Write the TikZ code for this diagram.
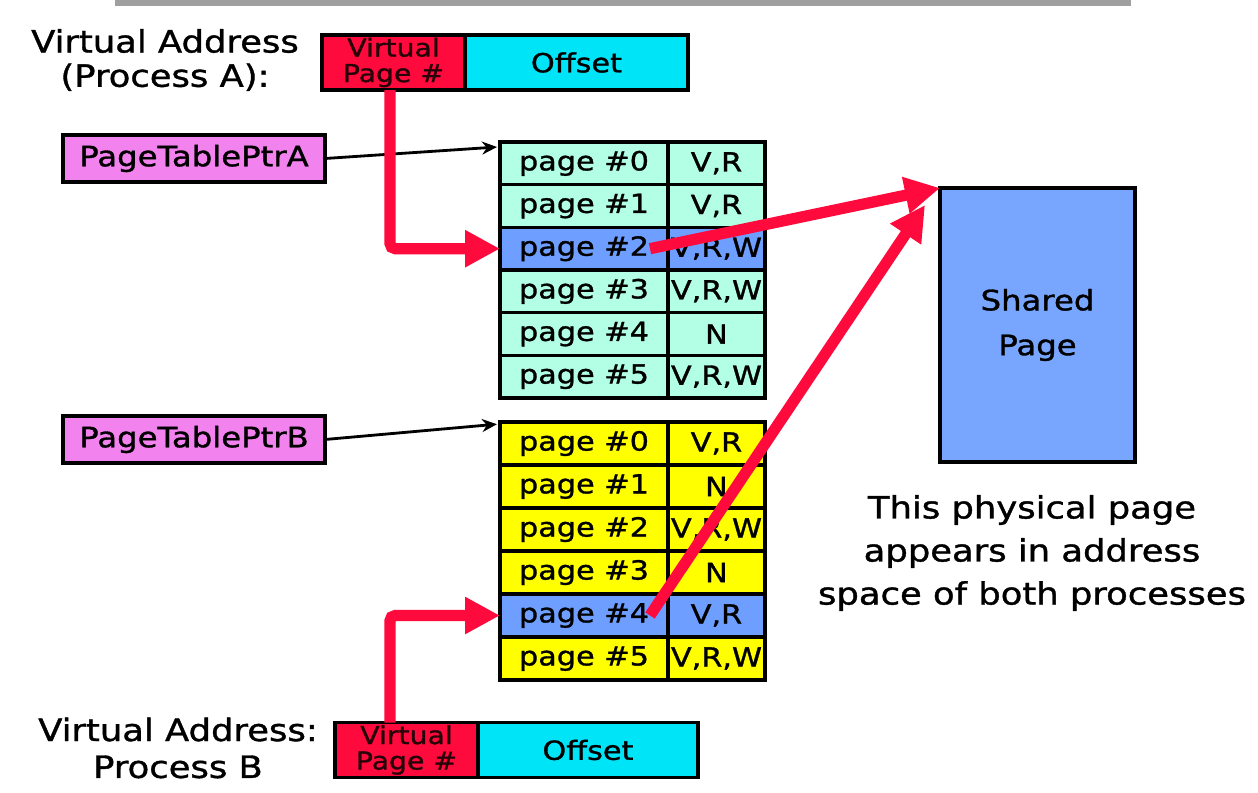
\documentclass[tikz,border=0pt]{standalone}
\usepackage{fontspec}
\setmainfont{DejaVu Sans}[FakeStretch=1.15, FakeBold=1.2]
\usepackage{xcolor}
\usepackage{tikz}
\usetikzlibrary{arrows.meta,positioning,calc}

\definecolor{vpnred}{HTML}{FF0A3C}
\definecolor{offcyan}{HTML}{00E4F8}
\definecolor{mintA}{HTML}{B2FFE6}
\definecolor{yellowB}{HTML}{FFFF00}
\definecolor{hlblue}{HTML}{6E9EFF}
\definecolor{sharedblue}{HTML}{78A6FF}
\definecolor{ptrpink}{HTML}{F283EE}

\begin{document}
\begin{tikzpicture}[x=0.02cm, y=-0.02cm,
    cell/.style={draw=black, line width=2pt, inner sep=0pt, outer sep=0pt, font=\fontsize{15}{18}\selectfont},
    pagecell/.style={cell, minimum width=3.36cm, minimum height=0.853cm},
    flagcell/.style={cell, minimum width=1.94cm, minimum height=0.853cm},
    vpnbox/.style={cell, fill=vpnred, minimum width=2.86cm, minimum height=1.1cm, align=center, text=black!85!vpnred, font=\fontsize{14}{14.5}\selectfont},
    offbox/.style={cell, fill=offcyan, minimum height=1.1cm},
    ptrbox/.style={cell, fill=ptrpink, minimum width=5.24cm, minimum height=0.94cm, font=\fontsize{16}{19}\selectfont},
    lbl/.style={align=center, font=\fontsize{17.5}{19.5}\selectfont},
    ptrarr/.style={-{Stealth[length=3mm, width=2.6mm]}, line width=1.6pt},
    redarr/.style={-{Triangle[length=7mm, width=7mm]}, line width=6.4pt, draw=vpnred, rounded corners=3pt}
]
    \useasboundingbox (0,0) rectangle (1258,792);
    % slide rule at the top
    \node[fill=gray!75, inner sep=0pt, minimum width=20.32cm, minimum height=0.12cm] (rule) at (623,3) {};

    % virtual address of process A
    \node[lbl] (vaA) at (165,60) {Virtual Address\\(Process A):};
    \node[vpnbox] (vpnA) at (393.5,62.5) {Virtual\\Page \#};
    \node[offbox, minimum width=4.46cm, right=0pt of vpnA] (offA) {Offset};

    % page table pointers
    \node[ptrbox] (ptrA) at (194,158.5) {PageTablePtrA};
    \node[ptrbox] (ptrB) at (194,439.5) {PageTablePtrB};

    % page table A
    \foreach \i/\fl/\col in {0/{V,R}/mintA, 1/{V,R}/mintA, 2/{V,R,W}/hlblue, 3/{V,R,W}/mintA, 4/{N}/mintA, 5/{V,R,W}/mintA} {
        \node[pagecell, fill=\col] (pa\i) at (584,{142+42.67*(\i+0.5)}) {page \#\i};
        \node[flagcell, fill=\col, right=0pt of pa\i] (fa\i) {\fl};
    }

    % page table B
    \foreach \i/\fl/\col in {0/{V,R}/yellowB, 1/{N}/yellowB, 2/{V,R,W}/yellowB, 3/{N}/yellowB, 4/{V,R}/hlblue, 5/{V,R,W}/yellowB} {
        \node[pagecell, fill=\col] (pb\i) at (584,{422+43*(\i+0.5)}) {page \#\i};
        \node[flagcell, fill=\col, right=0pt of pb\i] (fb\i) {\fl};
    }

    % physical page
    \node[cell, fill=sharedblue, minimum width=3.9cm, minimum height=5.48cm, align=center, font=\fontsize{16}{25.5}\selectfont] (shared) at (1037.5,325) {Shared\\Page};
    \node[lbl, font=\fontsize{17.5}{24.5}\selectfont] (note) at (1032,553) {This physical page\\appears in address\\space of both processes};

    % virtual address of process B
    \node[lbl, font=\fontsize{17.5}{21}\selectfont] (vaB) at (178,748) {Virtual Address:\\Process B};
    \node[vpnbox] (vpnB) at (406.5,750) {Virtual\\Page \#};
    \node[offbox, minimum width=4.4cm, right=0pt of vpnB] (offB) {Offset};

    % pointers to the tables
    \draw[ptrarr] (ptrA.east) -- ([shift={(-0.06cm,-0.1cm)}]pa0.north west);
    \draw[ptrarr] (ptrB.east) -- ([shift={(-0.06cm,-0.04cm)}]pb0.north west);

    % translation paths
    \draw[redarr] ([xshift=-0.07cm]vpnA.south) |- (pa2.west);
    \draw[redarr] ([xshift=-0.33cm]vpnB.north) |- (pb4.west);
    \draw[redarr] ([xshift=-0.36cm]pa2.east) -- (shared.north west);
    \draw[redarr] ([xshift=-0.36cm]pb4.east) -- ([shift={(-0.3cm,-0.34cm)}]shared.north west);
\end{tikzpicture}
\end{document}
